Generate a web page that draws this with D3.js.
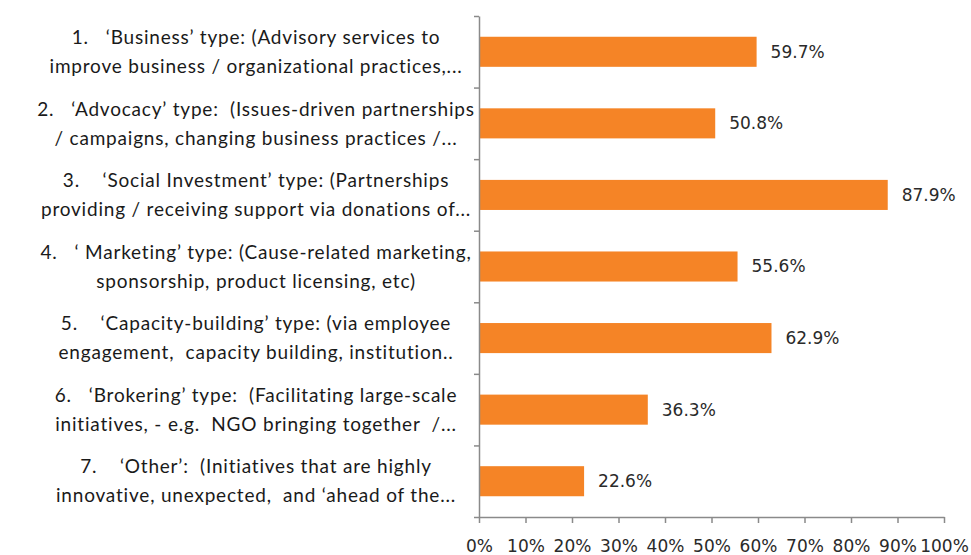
<!DOCTYPE html>
<html>
<head>
<meta charset="utf-8">
<script src="https://cdn.jsdelivr.net/npm/d3@7"></script>
<style>
  html, body { margin: 0; padding: 0; background: #fff; }
  svg { display: block; }
</style>
</head>
<body>
<svg id="chart"></svg>
<script>
// partnership types, each label wrapped on two lines as in the source
const categories = [
  ["1.   ‘Business’ type: (Advisory services to", "improve business / organizational practices,..."],
  ["2.   ‘Advocacy’ type:  (Issues-driven partnerships", "/ campaigns, changing business practices /..."],
  ["3.    ‘Social Investment’ type: (Partnerships", "providing / receiving support via donations of..."],
  ["4.   ‘ Marketing’ type: (Cause-related marketing,", "sponsorship, product licensing, etc)"],
  ["5.    ‘Capacity-building’ type: (via employee", "engagement,  capacity building, institution.."],
  ["6.   ‘Brokering’ type:  (Facilitating large-scale", "initiatives, - e.g.  NGO bringing together  /..."],
  ["7.    ‘Other’:  (Initiatives that are highly", "innovative, unexpected,  and ‘ahead of the..."]
];
const values = [59.7, 50.8, 87.9, 55.6, 62.9, 36.3, 22.6];
const xTicks = [0, 10, 20, 30, 40, 50, 60, 70, 80, 90, 100];

function drawChart() {
  const width = 971;
  const height = 555;
  const left = 479, right = 944, top = 16, bottom = 517;

  const svg = d3.select("#chart")
    .attr("width", width)
    .attr("height", height);

  const x = d3.scaleLinear().domain([0, 100]).range([left, right]);

  const idx = d3.range(categories.length);
  const y = d3.scaleBand()
    .domain(idx)
    .range([top, bottom])
    .paddingInner(0.58)
    .paddingOuter(0.29);

  // boundaries between categories for the excel-like tick marks
  const yEdge = d3.scaleLinear().domain([0, categories.length]).range([top, bottom]);

  // bars
  svg.append("g")
    .selectAll("rect")
    .data(values)
    .join("rect")
    .attr("x", x(0))
    .attr("y", (d, i) => y(i))
    .attr("width", d => x(d) - x(0))
    .attr("height", y.bandwidth())
    .attr("fill", "#F58426");

  // value labels
  svg.append("g")
    .selectAll("text")
    .data(values)
    .join("text")
    .attr("x", d => x(d) + 14)
    .attr("y", (d, i) => y(i) + y.bandwidth() / 2)
    .attr("dy", "0.35em")
    .style("font-family", "'DejaVu Sans', sans-serif")
    .style("font-size", "17px")
    .style("fill", "#2a2a2a")
    .text(d => d.toFixed(1) + "%");

  // y axis
  const yAxis = svg.append("g")
    .attr("transform", `translate(${left},0)`)
    .call(d3.axisLeft(yEdge)
      .tickValues(d3.range(categories.length + 1))
      .tickFormat("")
      .tickSize(5)
      .tickSizeOuter(0));
  yAxis.select(".domain").attr("stroke", "#8a8a8a").attr("stroke-width", 1.5);
  yAxis.selectAll(".tick line").attr("stroke", "#8a8a8a").attr("stroke-width", 1.5);

  // x axis
  const xAxis = svg.append("g")
    .attr("transform", `translate(0,${bottom})`)
    .call(d3.axisBottom(x)
      .tickValues(xTicks)
      .tickFormat(d => d + "%")
      .tickSize(6)
      .tickSizeOuter(0));
  xAxis.select(".domain").attr("stroke", "#8a8a8a").attr("stroke-width", 1.5);
  xAxis.selectAll(".tick line").attr("stroke", "#8a8a8a").attr("stroke-width", 1.5);
  xAxis.selectAll(".tick text")
    .attr("y", 29.5)
    .attr("dy", "0.35em")
    .style("font-family", "'DejaVu Sans', sans-serif")
    .style("font-size", "17px")
    .style("fill", "#2a2a2a");

  // category labels, centered two-line text
  const labels = svg.append("g")
    .selectAll("text")
    .data(categories)
    .join("text")
    .attr("text-anchor", "middle")
    .style("white-space", "pre")
    .style("font-family", "Lato, sans-serif")
    .style("font-size", "19px")
    .style("letter-spacing", "0.8px")
    .style("fill", "#1a1a1a");

  labels.each(function (lines, i) {
    const cy = y(i) + y.bandwidth() / 2;
    d3.select(this).selectAll("tspan")
      .data(lines)
      .join("tspan")
      .attr("x", 256)
      .attr("y", (d, j) => cy + (j === 0 ? -14.5 : 14.5))
      .attr("dy", "0.35em")
      .text(d => d);
  });
}

drawChart();
</script>
</body>
</html>
